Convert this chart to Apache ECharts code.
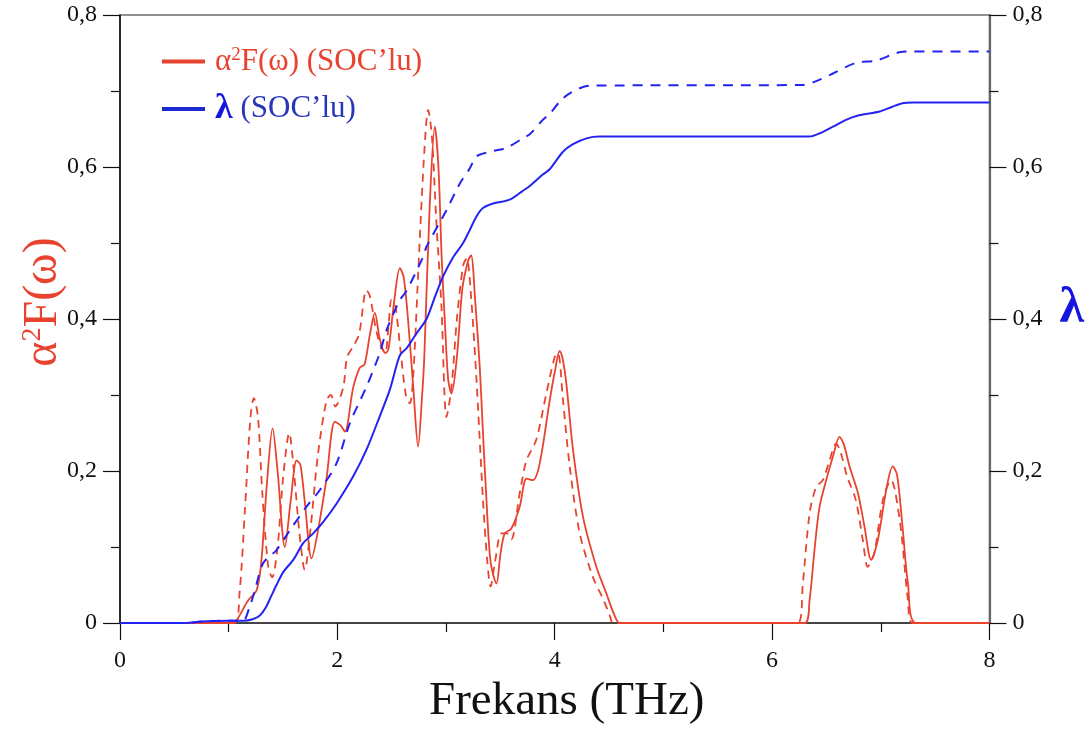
<!DOCTYPE html>
<html>
<head>
<meta charset="utf-8">
<script src="https://cdn.jsdelivr.net/npm/echarts@6/dist/echarts.min.js"></script>
<style>
  html, body { margin: 0; padding: 0; background: #fff; }
  #chart { width: 1087px; height: 735px; }
</style>
</head>
<body>
<div id="chart"></div>
<script>
// ---- Data ----
const xTicks = [0, 2, 4, 6, 8];
const yTicks = [0, 0.2, 0.4, 0.6, 0.8];

// α²F(ω) with SOC (solid red)
const a2fSocX = [0, 1.05, 1.10, 1.18, 1.257, 1.30, 1.35, 1.404, 1.45, 1.517, 1.57, 1.625, 1.66, 1.70, 1.763, 1.82, 1.90, 1.977, 2.03, 2.069, 2.146, 2.207, 2.25, 2.30, 2.345, 2.39, 2.44, 2.47, 2.52, 2.575, 2.61, 2.65, 2.70, 2.743, 2.78, 2.80, 2.85, 2.897, 2.93, 2.96, 2.99, 3.02, 3.05, 3.10, 3.15, 3.20, 3.23, 3.27, 3.31, 3.34, 3.372, 3.41, 3.464, 3.50, 3.54, 3.60, 3.678, 3.74, 3.80, 3.862, 3.954, 4.00, 4.046, 4.07, 4.107, 4.168, 4.26, 4.383, 4.475, 4.55, 4.60, 6.30, 6.345, 6.39, 6.437, 6.498, 6.56, 6.62, 6.66, 6.713, 6.79, 6.85, 6.912, 6.973, 7.05, 7.11, 7.15, 7.20, 7.25, 7.326, 8];
const a2fSocY = [0, 0, 0.010, 0.030, 0.043, 0.080, 0.180, 0.256, 0.200, 0.100, 0.160, 0.214, 0.208, 0.160, 0.085, 0.120, 0.190, 0.265, 0.260, 0.252, 0.310, 0.336, 0.340, 0.380, 0.408, 0.374, 0.355, 0.360, 0.420, 0.467, 0.455, 0.400, 0.307, 0.232, 0.300, 0.350, 0.550, 0.653, 0.600, 0.480, 0.394, 0.320, 0.302, 0.350, 0.440, 0.475, 0.484, 0.420, 0.337, 0.250, 0.162, 0.080, 0.052, 0.090, 0.118, 0.124, 0.153, 0.190, 0.188, 0.210, 0.293, 0.330, 0.358, 0.350, 0.315, 0.228, 0.140, 0.074, 0.039, 0.010, 0, 0, 0.030, 0.096, 0.153, 0.188, 0.219, 0.245, 0.235, 0.206, 0.171, 0.127, 0.083, 0.109, 0.175, 0.206, 0.195, 0.127, 0.052, 0, 0];

// α²F(ω) without SOC (dashed red)
const a2fX = [0, 1.05, 1.10, 1.15, 1.20, 1.232, 1.27, 1.31, 1.364, 1.40, 1.45, 1.50, 1.557, 1.60, 1.65, 1.70, 1.75, 1.82, 1.90, 1.94, 1.98, 2.054, 2.09, 2.15, 2.20, 2.268, 2.30, 2.35, 2.39, 2.44, 2.47, 2.498, 2.53, 2.58, 2.63, 2.667, 2.70, 2.75, 2.80, 2.835, 2.87, 2.91, 2.958, 3.004, 3.05, 3.10, 3.157, 3.19, 3.23, 3.28, 3.34, 3.38, 3.41, 3.45, 3.51, 3.56, 3.60, 3.678, 3.74, 3.83, 3.92, 4.00, 4.03, 4.076, 4.138, 4.23, 4.35, 4.45, 4.506, 4.54, 6.237, 6.283, 6.345, 6.406, 6.467, 6.529, 6.59, 6.63, 6.69, 6.77, 6.835, 6.88, 6.94, 7.02, 7.096, 7.13, 7.19, 7.25, 7.295, 8];
const a2fY = [0, 0, 0.040, 0.150, 0.270, 0.296, 0.270, 0.170, 0.074, 0.060, 0.100, 0.190, 0.250, 0.200, 0.120, 0.070, 0.120, 0.220, 0.293, 0.300, 0.285, 0.310, 0.350, 0.365, 0.380, 0.438, 0.430, 0.390, 0.368, 0.355, 0.390, 0.425, 0.420, 0.360, 0.300, 0.289, 0.330, 0.480, 0.620, 0.675, 0.640, 0.530, 0.416, 0.271, 0.310, 0.400, 0.470, 0.480, 0.430, 0.320, 0.162, 0.080, 0.048, 0.080, 0.118, 0.118, 0.110, 0.171, 0.214, 0.241, 0.300, 0.350, 0.355, 0.293, 0.206, 0.118, 0.061, 0.030, 0.010, 0, 0, 0.052, 0.144, 0.179, 0.188, 0.214, 0.236, 0.225, 0.193, 0.162, 0.109, 0.074, 0.092, 0.162, 0.188, 0.175, 0.118, 0.030, 0, 0];

// λ with SOC (solid blue)
const lamSocX = [0, 0.6, 0.75, 1.0, 1.134, 1.22, 1.287, 1.34, 1.39, 1.44, 1.502, 1.594, 1.686, 1.778, 1.87, 1.992, 2.146, 2.268, 2.39, 2.483, 2.575, 2.64, 2.728, 2.82, 2.90, 2.973, 3.06, 3.157, 3.218, 3.28, 3.34, 3.433, 3.586, 3.70, 3.77, 3.89, 3.954, 4.076, 4.168, 4.30, 4.414, 6.345, 6.45, 6.56, 6.68, 6.80, 6.99, 7.10, 7.20, 7.295, 8];
const lamSocY = [0, 0, 0.002, 0.003, 0.003, 0.005, 0.010, 0.020, 0.035, 0.050, 0.067, 0.083, 0.105, 0.118, 0.133, 0.157, 0.193, 0.228, 0.272, 0.307, 0.352, 0.362, 0.381, 0.400, 0.430, 0.456, 0.480, 0.500, 0.517, 0.535, 0.546, 0.552, 0.557, 0.568, 0.575, 0.590, 0.597, 0.620, 0.630, 0.638, 0.640, 0.640, 0.645, 0.653, 0.662, 0.668, 0.673, 0.679, 0.684, 0.685, 0.685];

// λ without SOC (dashed blue)
const lamX = [0, 0.6, 0.75, 1.0, 1.13, 1.19, 1.241, 1.318, 1.44, 1.563, 1.716, 1.839, 1.992, 2.115, 2.268, 2.39, 2.452, 2.575, 2.636, 2.79, 2.82, 2.973, 3.004, 3.126, 3.218, 3.28, 3.40, 3.464, 3.556, 3.709, 3.77, 3.89, 3.954, 4.046, 4.138, 4.32, 6.28, 6.406, 6.56, 6.77, 6.958, 7.172, 7.295, 8];
const lamY = [0, 0, 0.002, 0.003, 0.003, 0.020, 0.043, 0.079, 0.096, 0.122, 0.153, 0.175, 0.210, 0.263, 0.311, 0.355, 0.385, 0.425, 0.437, 0.482, 0.495, 0.535, 0.543, 0.578, 0.598, 0.614, 0.620, 0.622, 0.625, 0.638, 0.643, 0.662, 0.670, 0.686, 0.697, 0.707, 0.708, 0.713, 0.723, 0.737, 0.740, 0.751, 0.752, 0.752];

const names = {
  a2fSoc: "α²F(ω) (SOC'lu)",
  a2f: "α²F(ω) (SOC'suz)",
  lamSoc: "λ (SOC'lu)",
  lam: "λ (SOC'suz)"
};

const RED = '#e8432f';
const BLUE = '#2323f2';
const FONT = "'Liberation Serif', 'DejaVu Serif', serif";

function zip(xs, ys) { return xs.map((x, i) => [x, ys[i]]); }
function fmt(v) { return v === 0 ? '0' : v.toFixed(1).replace('.', ','); }

const chart = echarts.init(document.getElementById('chart'), null, { renderer: 'canvas' });

const yAxisBase = {
  type: 'value', min: yTicks[0], max: yTicks[yTicks.length - 1], interval: 0.2,
  splitLine: { show: false },
  axisTick: { show: true, inside: false, length: 17, lineStyle: { color: '#111', width: 1.2 } },
  minorTick: { show: true, splitNumber: 2, length: 9, lineStyle: { color: '#111', width: 1.2 } },
  axisLabel: { formatter: fmt, fontFamily: FONT, fontSize: 24, color: '#111', margin: 23 }
};

const option = {
  animation: false,
  backgroundColor: '#fff',
  grid: { left: 120, right: 97, top: 15, bottom: 112, show: true, borderColor: '#222', borderWidth: 1.2 },
  legend: {
    orient: 'vertical', left: 157, top: 41, itemGap: 14,
    icon: 'rect', itemWidth: 43, itemHeight: 4,
    data: [
      { name: names.a2fSoc, textStyle: { color: RED } },
      { name: names.lamSoc, textStyle: { color: '#2a36b8' } }
    ],
    textStyle: {
      fontFamily: FONT, fontSize: 31, lineHeight: 31, padding: [0, 0, 0, 5],
      rich: {
        r: { fontFamily: FONT, fontSize: 31, color: RED, lineHeight: 31 },
        sup: { fontFamily: FONT, fontSize: 19, color: RED, verticalAlign: 'top', lineHeight: 19 },
        lam: { fontFamily: FONT, fontSize: 36, fontWeight: 'bold', color: '#1515e0', lineHeight: 31 },
        b: { fontFamily: FONT, fontSize: 31, color: '#2a36b8', lineHeight: 31 }
      }
    },
    formatter: function (n) {
      if (n === names.a2fSoc) return "{r|α}{sup|2}{r|F(ω) (SOC’lu)}";
      return "{lam|λ}{b| (SOC’lu)}";
    }
  },
  xAxis: {
    type: 'value', min: xTicks[0], max: xTicks[xTicks.length - 1], interval: 2,
    name: 'Frekans (THz)', nameLocation: 'middle', nameGap: 52,
    nameTextStyle: { fontFamily: FONT, fontSize: 47, color: '#111', padding: [0, 0, 0, 24] },
    axisLine: { show: true, onZero: false, lineStyle: { color: '#444', width: 2 } },
    axisTick: { show: true, inside: false, length: 17, lineStyle: { color: '#111', width: 1.2 } },
    minorTick: { show: true, splitNumber: 2, length: 9, lineStyle: { color: '#111', width: 1.2 } },
    splitLine: { show: false },
    axisLabel: { fontFamily: FONT, fontSize: 24, color: '#111', margin: 26 }
  },
  yAxis: [
    Object.assign({}, yAxisBase, {
      position: 'left',
      name: "{a|α}{s|2}{a|F(ω)}", nameLocation: 'middle', nameGap: 53, nameRotate: 90,
      nameMoveOverlap: false,
      nameTextStyle: {
        color: RED, fontFamily: FONT, fontSize: 48, padding: [0, 0, 0, 34],
        rich: {
          a: { fontFamily: FONT, fontSize: 48, color: RED, lineHeight: 48 },
          s: { fontFamily: FONT, fontSize: 28, color: RED, verticalAlign: 'top', lineHeight: 28 }
        }
      },
      axisLine: { show: true, lineStyle: { color: '#111', width: 1.5 } }
    }),
    Object.assign({}, yAxisBase, {
      position: 'right',
      name: "{l|λ}\n{g|}", nameLocation: 'middle', nameGap: 70, nameRotate: 0,
      nameMoveOverlap: false,
      nameTextStyle: {
        color: '#1515e0', fontFamily: FONT, fontSize: 50, fontWeight: 'bold',
        rich: {
          l: { fontFamily: FONT, fontSize: 50, fontWeight: 'bold', color: '#1515e0', lineHeight: 50 },
          g: { fontSize: 10, lineHeight: 20 }
        }
      },
      axisLine: { show: true, lineStyle: { color: '#666', width: 2.2 } }
    })
  ],
  series: [
    { name: names.a2f, type: 'line', yAxisIndex: 0, data: zip(a2fX, a2fY), showSymbol: false, smooth: 0.3,
      lineStyle: { color: RED, width: 1.8, type: [8, 6] }, itemStyle: { color: RED } },
    { name: names.a2fSoc, type: 'line', yAxisIndex: 0, data: zip(a2fSocX, a2fSocY), showSymbol: false, smooth: 0.3,
      lineStyle: { color: RED, width: 1.8 }, itemStyle: { color: RED } },
    { name: names.lam, type: 'line', yAxisIndex: 1, data: zip(lamX, lamY), showSymbol: false, smooth: 0.3,
      lineStyle: { color: BLUE, width: 2, type: [10, 8] }, itemStyle: { color: BLUE } },
    { name: names.lamSoc, type: 'line', yAxisIndex: 1, data: zip(lamSocX, lamSocY), showSymbol: false, smooth: 0.3,
      lineStyle: { color: BLUE, width: 2 }, itemStyle: { color: '#1a2ad0' } }
  ]
};

chart.setOption(option);
</script>
</body>
</html>
